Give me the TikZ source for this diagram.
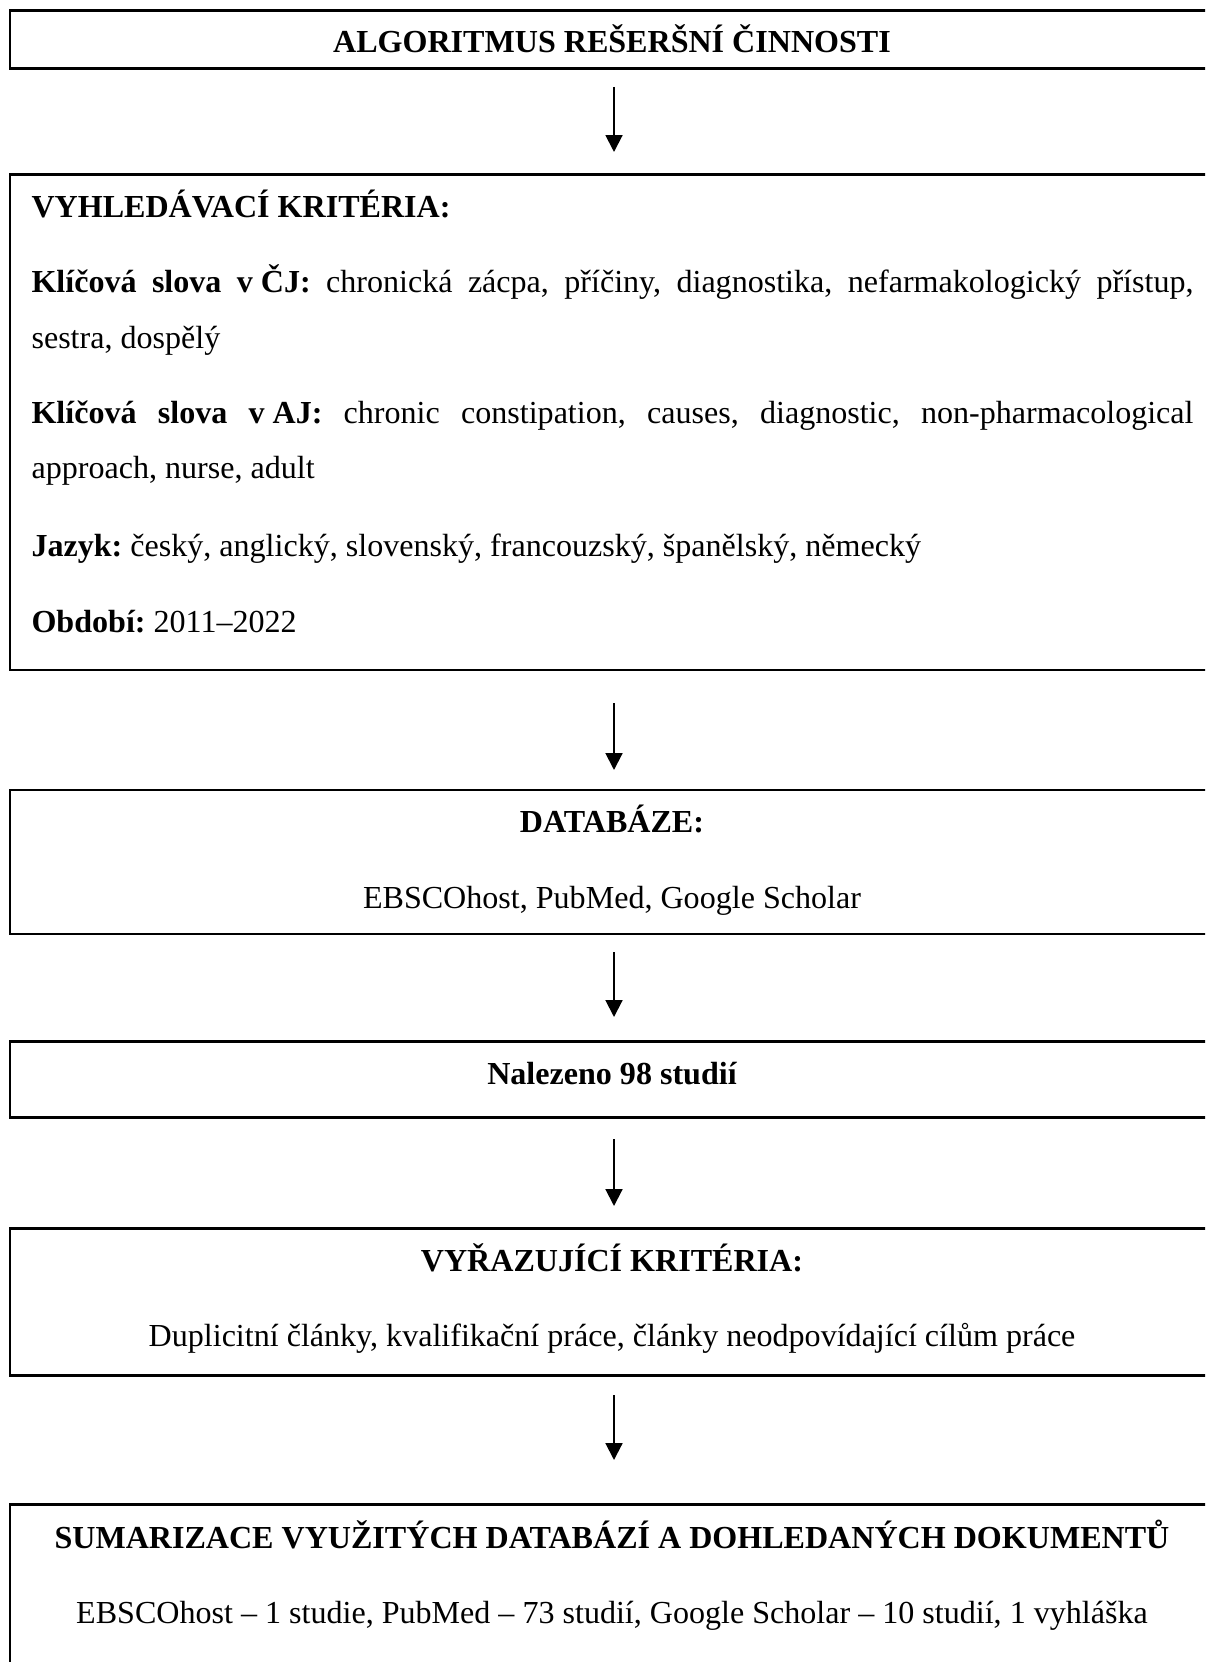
\documentclass[tikz,border=0pt]{standalone}
\usepackage{fontspec}
\setmainfont{Liberation Serif}
\usetikzlibrary{arrows.meta}
\frenchspacing
\begin{document}
\begin{tikzpicture}[x=0.368pt,y=-0.368pt,
  box/.style={draw,line width=1.1pt,anchor=north west,inner sep=0,outer sep=0},
  flow/.style={line width=0.75pt,-{Triangle[length=6.2pt,width=6.2pt]}},
  ctitle/.style={font=\bfseries\fontsize{11.8}{14}\selectfont,anchor=base,inner sep=0},
  ctext/.style={font=\fontsize{11.8}{14}\selectfont,anchor=base,inner sep=0},
  ltitle/.style={font=\bfseries\fontsize{11.8}{14}\selectfont,anchor=base west,inner sep=0},
  ltext/.style={font=\fontsize{11.8}{14}\selectfont,anchor=base west,inner sep=0}]
\useasboundingbox (0,0) rectangle (1205,1662);
\clip (0,0) rectangle (1205,1662);
% boxes
\node[box,minimum width=443.44pt,minimum height=21.34pt] (b1) at (10,11) {};
\node[box,minimum width=443.44pt,minimum height=182.16pt] (b2) at (10,175) {};
\node[box,minimum width=443.44pt,minimum height=52.99pt] (b3) at (10,790) {};
\node[box,minimum width=443.44pt,minimum height=27.97pt] (b4) at (10,1041) {};
\node[box,minimum width=443.44pt,minimum height=54.10pt] (b5) at (10,1228) {};
\node[box,minimum width=443.44pt,minimum height=73.60pt] (b6) at (10,1504) {};
% texts
\node[ctitle] (t1) at (612,53) {ALGORITMUS REŠERŠNÍ ČINNOSTI};
\node[ltitle] (t2) at (31,218) {VYHLEDÁVACÍ KRITÉRIA:};
\node[ltext] (t3) at (31,293) {\makebox[427.6pt][s]{\textbf{Klíčová slova \mbox{v ČJ:}} chronická zácpa, příčiny, diagnostika, nefarmakologický přístup,}};
\node[ltext] (t4) at (31,349) {sestra, dospělý};
\node[ltext] (t5) at (31,424) {\makebox[427.6pt][s]{\textbf{Klíčová slova \mbox{v AJ:}} chronic constipation, causes, diagnostic, non-pharmacological}};
\node[ltext] (t6) at (31,479) {approach, nurse, adult};
\node[ltext] (t7) at (31,557) {\textbf{Jazyk:} český, anglický, slovenský, francouzský, španělský, německý};
\node[ltext] (t8) at (31,633) {\textbf{Období:} 2011–2022};
\node[ctitle] (t9) at (612,832) {DATABÁZE:};
\node[ctext] (t10) at (612,908) {EBSCOhost, PubMed, Google Scholar};
\node[ctitle] (t11) at (612,1084) {Nalezeno 98 studií};
\node[ctitle] (t12) at (612,1271) {VYŘAZUJÍCÍ KRITÉRIA:};
\node[ctext] (t13) at (612,1346) {Duplicitní články, kvalifikační práce, články neodpovídající cílům práce};
\node[ctitle] (t14) at (612,1548) {SUMARIZACE VYUŽITÝCH DATABÁZÍ A DOHLEDANÝCH DOKUMENTŮ};
\node[ctext] (t15) at (612,1623) {EBSCOhost – 1 studie, PubMed – 73 studií, Google Scholar – 10 studií, 1 vyhláška};
% arrows
\coordinate (a1s) at (614,87);   \coordinate (a1e) at (614,152);
\coordinate (a2s) at (614,703);  \coordinate (a2e) at (614,770);
\coordinate (a3s) at (614,952);  \coordinate (a3e) at (614,1017);
\coordinate (a4s) at (614,1139); \coordinate (a4e) at (614,1206);
\coordinate (a5s) at (614,1395); \coordinate (a5e) at (614,1460);
\draw[flow] (a1s) -- (a1e);
\draw[flow] (a2s) -- (a2e);
\draw[flow] (a3s) -- (a3e);
\draw[flow] (a4s) -- (a4e);
\draw[flow] (a5s) -- (a5e);
\end{tikzpicture}
\end{document}
